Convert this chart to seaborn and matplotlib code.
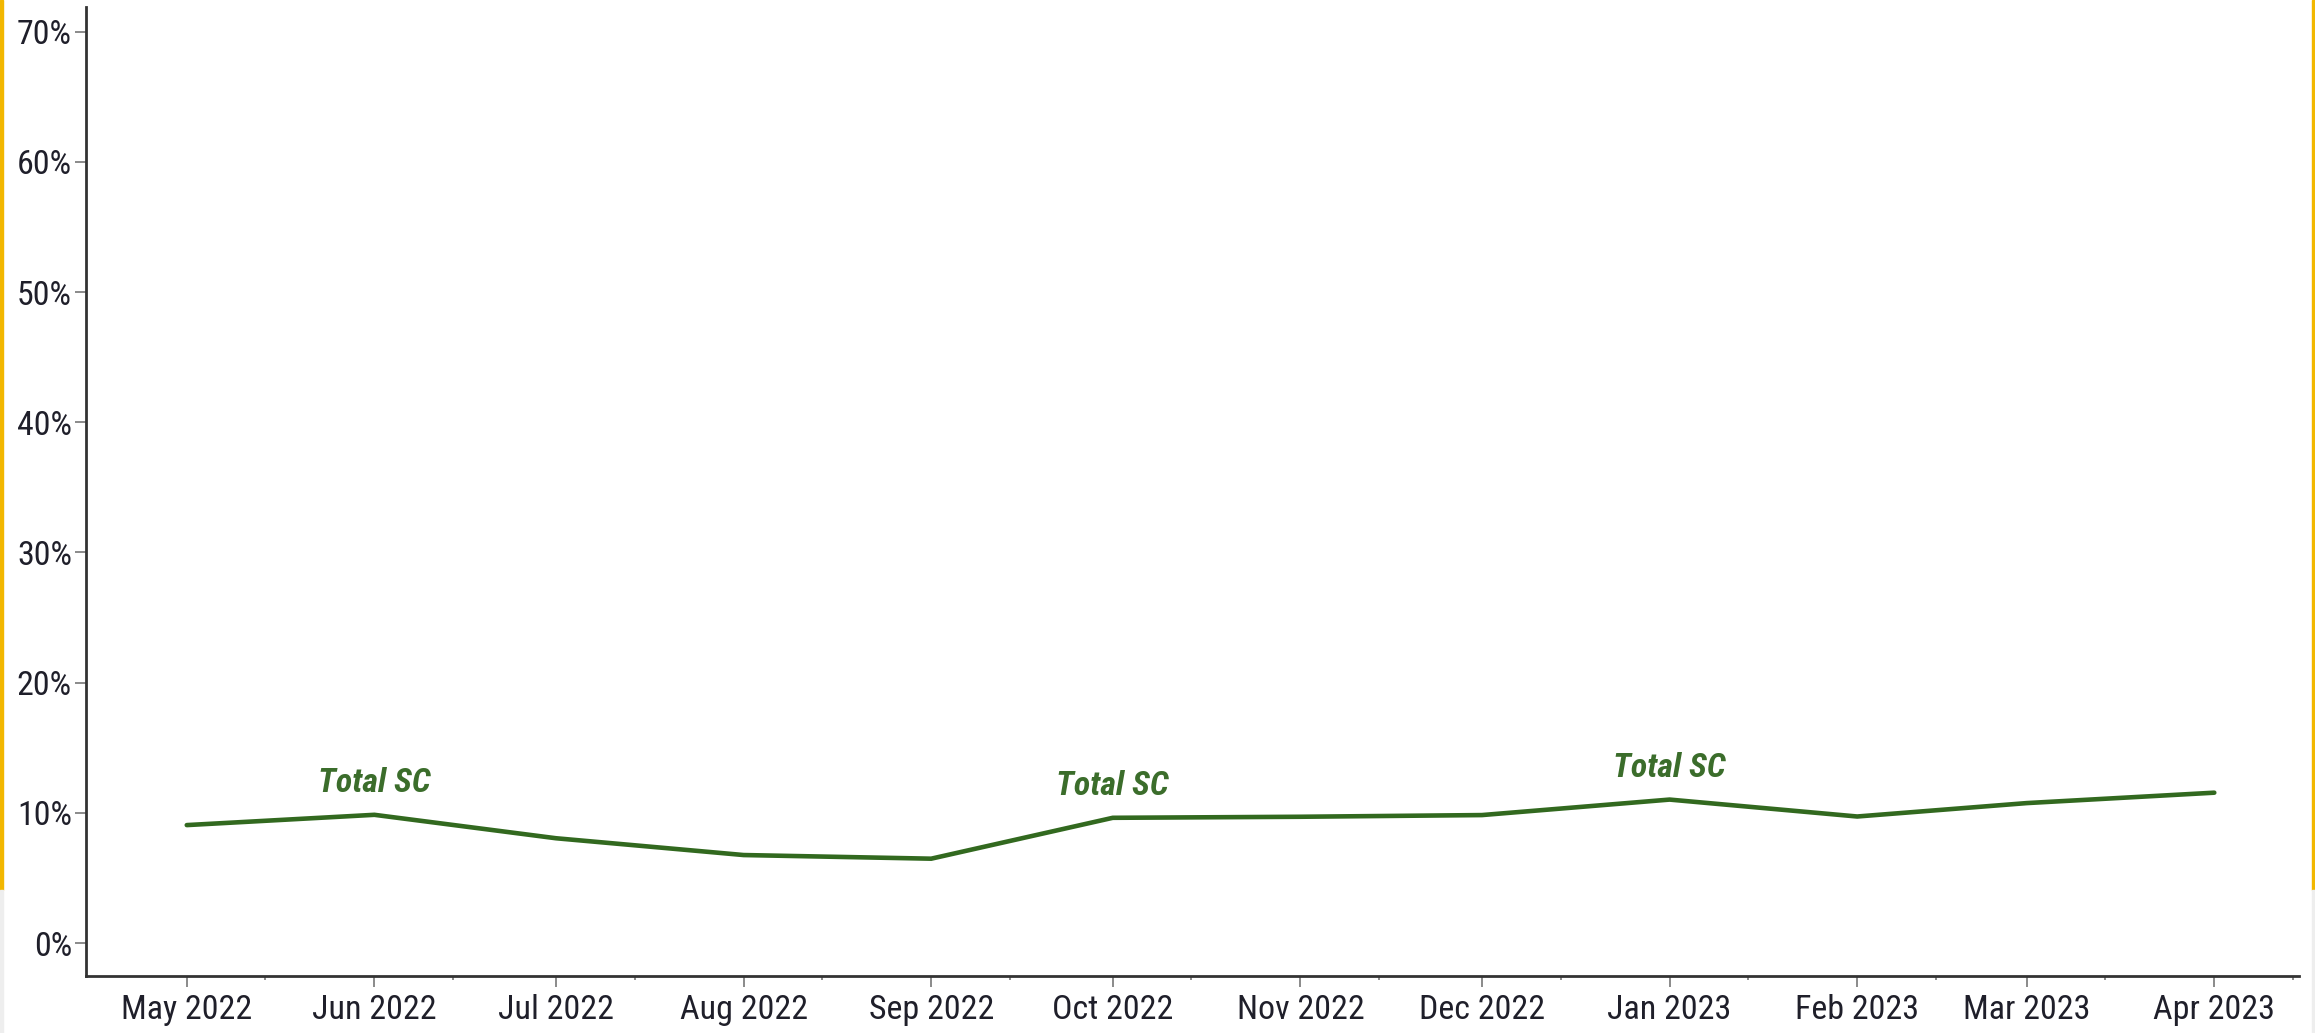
import matplotlib
matplotlib.use("Agg")
import matplotlib.dates as mdates
import matplotlib.pyplot as plt
import pandas as pd
import seaborn as sns
from matplotlib import font_manager
from matplotlib.patches import Rectangle
from matplotlib.ticker import MultipleLocator, PercentFormatter

# Monthly values (share, 0-1).
MONTHS = [
    "2022-05-01", "2022-06-01", "2022-07-01", "2022-08-01", "2022-09-01",
    "2022-10-01", "2022-11-01", "2022-12-01", "2023-01-01", "2023-02-01",
    "2023-03-01", "2023-04-01",
]
TOTAL_SC = [0.0906, 0.0985, 0.0805, 0.0676, 0.0648, 0.0962, 0.0970, 0.0983,
            0.1102, 0.0972, 0.1075, 0.1155]
SERIES_NAME = "Total SC"
# Months where the series name is written above the line.
LABEL_MONTHS = ["2022-06-01", "2022-10-01", "2023-01-01"]

LINE_COLOR = "#32691f"
LABEL_COLOR = "#3b6d2b"
TEXT_COLOR = "#1f1f2a"
NARROW_FONTS = ["Liberation Sans Narrow", "Roboto Condensed",
                "DejaVu Sans Condensed", "Open Sans Condensed"]


def pick_font() -> tuple[list[str], float]:
    # The reference uses a narrow face; fall back to a regular one set smaller.
    names = {f.name for f in font_manager.fontManager.ttflist}
    for name in NARROW_FONTS:
        if name in names:
            return [name, "DejaVu Sans"], 24.5
    return ["Liberation Sans", "DejaVu Sans"], 20


def main() -> None:
    sns.set_style("ticks")
    family, size = pick_font()
    plt.rcParams["font.family"] = family

    df = pd.DataFrame({"month": pd.to_datetime(MONTHS), "value": TOTAL_SC})

    fig = plt.figure(figsize=(23.15, 10.33), dpi=100)
    ax = fig.add_axes([0.0371, 0.0552, 0.956, 0.938])

    sns.lineplot(data=df, x="month", y="value", ax=ax, color=LINE_COLOR,
                 linewidth=3.3, solid_joinstyle="miter")

    # Series name written above selected points.
    for m in pd.to_datetime(LABEL_MONTHS):
        y = df.loc[df["month"] == m, "value"].iloc[0]
        ax.annotate(SERIES_NAME, xy=(m, y), xytext=(0, 23),
                    textcoords="offset points", ha="center", va="center",
                    fontsize=size, fontweight="bold", fontstyle="italic",
                    color=LABEL_COLOR)

    ax.set_xlim(pd.Timestamp("2022-04-14 08:00"), pd.Timestamp("2023-04-15"))
    ax.set_ylim(-0.0253, 0.719)

    ax.xaxis.set_major_locator(mdates.MonthLocator())
    ax.xaxis.set_major_formatter(mdates.DateFormatter("%b %Y"))
    ax.xaxis.set_minor_locator(mdates.MonthLocator(bymonthday=14))
    ax.yaxis.set_major_locator(MultipleLocator(0.10))
    ax.yaxis.set_major_formatter(PercentFormatter(1.0, decimals=0))

    ax.set_xlabel("")
    ax.set_ylabel("")
    ax.grid(False)

    sns.despine(ax=ax, top=True, right=True)
    for side in ("left", "bottom"):
        ax.spines[side].set_color("#333333")
        ax.spines[side].set_linewidth(2.0)

    ax.tick_params(axis="both", which="major", length=8, width=1.4,
                   color="#8a8a8a", labelsize=size, labelcolor=TEXT_COLOR)
    ax.tick_params(axis="x", which="major", pad=5)
    ax.tick_params(axis="y", which="major", pad=2)
    ax.tick_params(axis="x", which="minor", length=3, width=1.4,
                   color="#8a8a8a")

    # Screenshot frame: yellow edges with a light grey strip at the bottom.
    fig.patches.append(Rectangle((0, 0.138), 0.0013, 0.862,
                                 transform=fig.transFigure,
                                 color="#f2b700", zorder=5))
    fig.patches.append(Rectangle((0.9987, 0.138), 0.0013, 0.862,
                                 transform=fig.transFigure,
                                 color="#f2b700", zorder=5))
    fig.patches.append(Rectangle((0, 0), 0.0013, 0.138,
                                 transform=fig.transFigure,
                                 color="#eeeeee", zorder=5))
    fig.patches.append(Rectangle((0.9987, 0), 0.0013, 0.138,
                                 transform=fig.transFigure,
                                 color="#eeeeee", zorder=5))

    fig.savefig("out.png", dpi=100)
    plt.close(fig)


if __name__ == "__main__":
    main()
